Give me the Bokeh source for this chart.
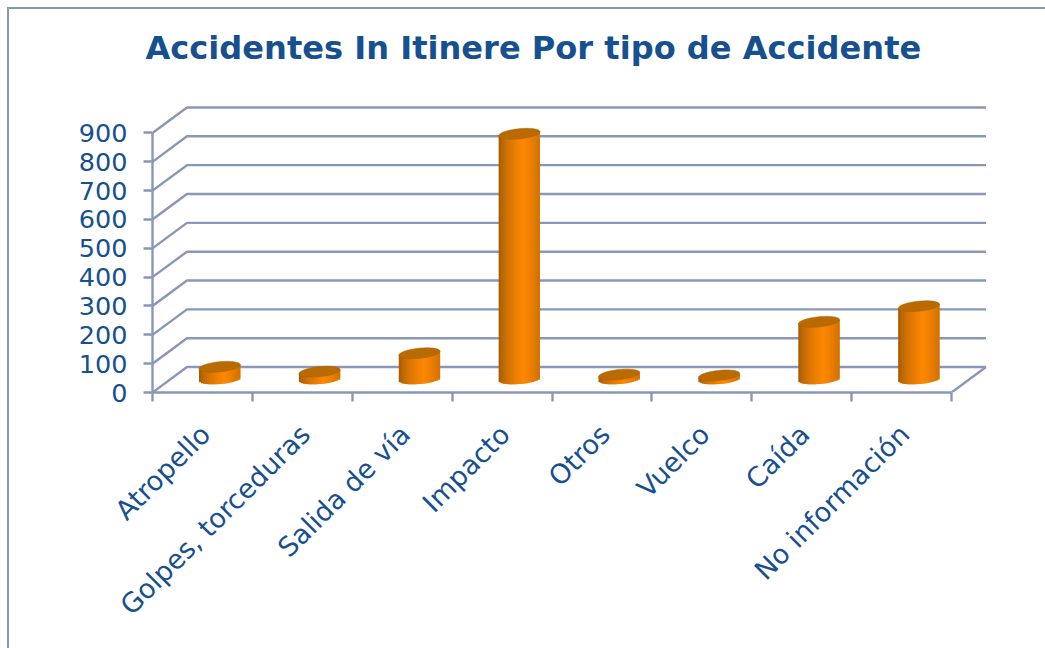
import math
import numpy as np
from bokeh.embed import file_html
from bokeh.models import FixedTicker, LinearAxis, Range1d, Title
from bokeh.plotting import figure
from bokeh.resources import INLINE

title_text = "Accidentes In Itinere Por tipo de Accidente"
categories = ["Atropello", "Golpes, torceduras", "Salida de vía", "Impacto", "Otros", "Vuelco", "Caída", "No información"]
values = [42, 25, 89, 850, 15, 12, 198, 252]
y_ticks = [0, 100, 200, 300, 400, 500, 600, 700, 800, 900]

BLUE = "#17508f"
LINE = "#8a97b8"
FONT = "DejaVu Sans"
DX, DY = 0.345, 88.3          # depth of the 3D box, in data units
RX, RY, SK = 0.207, 17.5, 7.0 # cylinder radius, minor radius, shear (data units)

p = figure(width=1036, height=639, output_backend="svg", toolbar_location=None,
           x_range=Range1d(0, 8.4), y_range=Range1d(0, 1057.6),
           x_axis_type=None, y_axis_type=None,
           min_border_left=143, min_border_right=54, min_border_top=78, min_border_bottom=256,
           margin=(9, 0, 0, 9))
p.grid.visible = False
p.outline_line_color = None
p.background_fill_color = "white"
p.border_fill_color = "white"
p.styles = {"box-shadow": f"-1px -1px 0 1px {LINE}"}

p.title = Title(text=title_text, align="left", offset=-7, standoff=37, vertical_align="top",
                text_font=FONT, text_font_size="32.1px", text_font_style="bold", text_color=BLUE)

label_ticks = [round(i + 0.53, 2) for i in range(8)]
yaxis = LinearAxis(ticker=FixedTicker(ticks=y_ticks), bounds=(0, 900))
xaxis = LinearAxis(ticker=FixedTicker(ticks=label_ticks, minor_ticks=list(range(9))),
                   bounds=(0, 8), major_label_overrides=dict(zip(label_ticks, categories)),
                   major_label_orientation=math.pi / 4)
for ax in (xaxis, yaxis):
    ax.axis_line_color = LINE
    ax.axis_line_width = 2.4
    ax.major_label_text_font = FONT
    ax.major_label_text_color = BLUE
yaxis.major_label_text_font_size = "25.5px"
xaxis.major_label_text_font_size = "27px"
yaxis.major_tick_line_color = LINE
yaxis.major_tick_line_width = 2.4
yaxis.major_tick_in = 0
yaxis.major_tick_out = 9
yaxis.minor_tick_line_color = None
yaxis.major_label_standoff = 16
xaxis.major_tick_line_color = None
xaxis.minor_tick_line_color = LINE
xaxis.minor_tick_line_width = 2.4
xaxis.minor_tick_in = 0
xaxis.minor_tick_out = 9
xaxis.major_label_standoff = 28
p.add_layout(yaxis, "left")
p.add_layout(xaxis, "below")

# walls and floor
xs = [[0, DX, 8 + DX] for _ in y_ticks] + [[8, 8 + DX]]
ys = [[v, v + DY, v + DY] for v in y_ticks] + [[0, DY]]
p.multi_line(xs, ys, line_color=LINE, line_width=2.4)

# cylinders: side strips with a shaded colour, then the top cap
edges = np.linspace(-1, 1, 22)
u = (edges[:-1] + edges[1:]) / 2
right_edge = np.append(edges[2:], 1.0)
shade = np.clip(1 - np.abs(u - 0.2) / 1.2, 0, 1) ** 0.55
dark = np.array([150, 86, 8])
light = np.array([255, 136, 0])
strip_cols = ["#%02x%02x%02x" % tuple((dark + (light - dark) * s).astype(int)) for s in shade]
t = np.linspace(0, 2 * np.pi, 60)
capx, capy = [], []
for i, val in enumerate(values):
    cx = i + 0.5 + DX / 2
    base = DY / 2 + 3
    low = base + SK * u - RY * np.sqrt(np.clip(1 - u ** 2, 0, 1))
    top = base + val + SK * u
    p.quad(left=cx + edges[:-1] * RX, right=cx + right_edge * RX, bottom=low, top=top,
           fill_color=strip_cols, line_color=None)
    capx.append(cx + RX * np.cos(t))
    capy.append(base + val + RY * np.sin(t) + SK * np.cos(t))
p.patches(capx, capy, fill_color="#b96a00", line_color="#a86000", line_width=0.5)

open("out.html", "w").write(file_html(p, INLINE))
